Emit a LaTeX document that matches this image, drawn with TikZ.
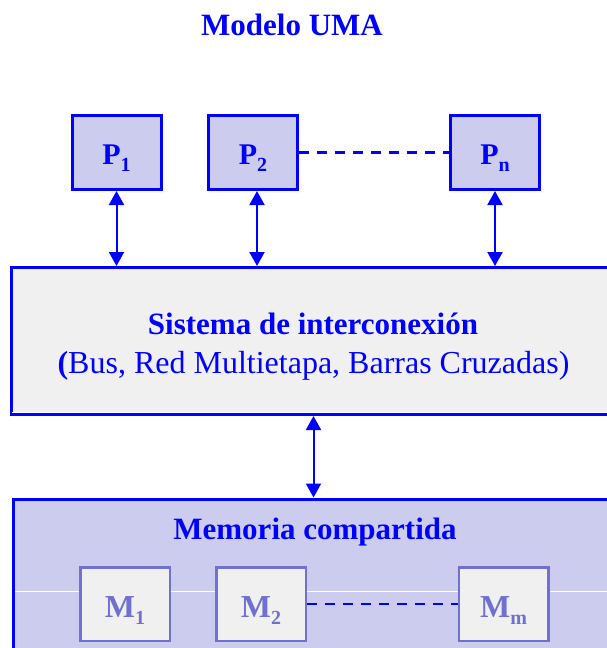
\documentclass[tikz,border=0pt]{standalone}
\usepackage{fontspec}
\setmainfont{Liberation Serif}
\usetikzlibrary{arrows.meta}
\definecolor{umablue}{RGB}{0,0,255}
\definecolor{lav}{RGB}{204,204,238}
\definecolor{lgray}{RGB}{240,240,240}
\definecolor{mblue}{RGB}{112,112,208}
\tikzset{
  bigbold/.style={text=umablue, inner sep=0pt, font=\bfseries\fontsize{31}{31}\selectfont},
  bigreg/.style={text=umablue, inner sep=0pt, font=\fontsize{32}{32}\selectfont},
  pbox/.style={draw=umablue, line width=3pt, fill=lav, minimum width=89pt, minimum height=74pt,
    inner sep=0pt, text=umablue, text height=23pt, text depth=0pt,
    font=\bfseries\fontsize{30}{30}\selectfont},
  mbox/.style={draw=mblue, line width=2.5pt, fill=lgray, minimum width=89.5pt, minimum height=73.5pt,
    inner sep=0pt, text=mblue, text height=26pt, text depth=0pt,
    font=\bfseries\fontsize{32}{32}\selectfont},
  bigbox/.style={draw=umablue, line width=3pt, inner sep=0pt},
  link/.style={draw=umablue, line width=2pt,
    {Triangle[length=14pt,width=15pt]}-{Triangle[length=14pt,width=15pt]}},
  dots/.style={draw=umablue, line width=2.5pt, dash pattern=on 10pt off 8pt},
  artifact/.style={draw=white, line width=1pt},
}
\newcommand{\subx}[1]{\raisebox{-7pt}{\fontsize{20}{20}\selectfont #1}}
\begin{document}
\begin{tikzpicture}[x=1pt,y=-1pt]
  \useasboundingbox (0,0) rectangle (607,648);
  % title
  \node[bigbold, anchor=base] (title) at (292,35) {Modelo UMA};
  % processors
  \node[pbox] (P1) at (116.5,152.5) {P\subx{1}};
  \node[pbox] (P2) at (253,152.5) {P\subx{2}};
  \node[pbox] (Pn) at (495,152.5) {P\subx{n}};
  \draw[dots] (P2) -- (Pn);
  % interconnection system
  \node[bigbox, fill=lgray, minimum width=604pt, minimum height=147pt] (sis) at (313.5,341) {};
  \draw[artifact] (12,412) -- (607,412);
  \node[bigbold, anchor=base] (sisA) at (313,334) {Sistema de interconexión};
  \node[bigreg, anchor=base] (sisB) at (313.5,373) {\textbf{(}Bus, Red Multietapa, Barras Cruzadas)};
  % links processors - system
  \draw[link] (P1.south) -- (P1.south |- sis.north);
  \draw[link] ([xshift=4pt]P2.south) -- ([xshift=4pt]P2.south |- sis.north);
  \draw[link] (Pn.south) -- (Pn.south |- sis.north);
  % shared memory
  \node[bigbox, fill=lav, minimum width=604pt, minimum height=202pt] (mem) at (315,600) {};
  \draw[artifact] (15,591) -- (607,591);
  \node[bigbold, anchor=base] (memtxt) at (315,539) {Memoria compartida};
  \draw[link] (sis.south) -- (sis.south |- mem.north);
  % memory modules
  \node[mbox] (M1) at (125,604) {M\subx{1}};
  \node[mbox] (M2) at (261,604) {M\subx{2}};
  \node[mbox] (Mm) at (503.5,604) {M\subx{m}};
  \draw[dots] (M2) -- (Mm);
\end{tikzpicture}
\end{document}
